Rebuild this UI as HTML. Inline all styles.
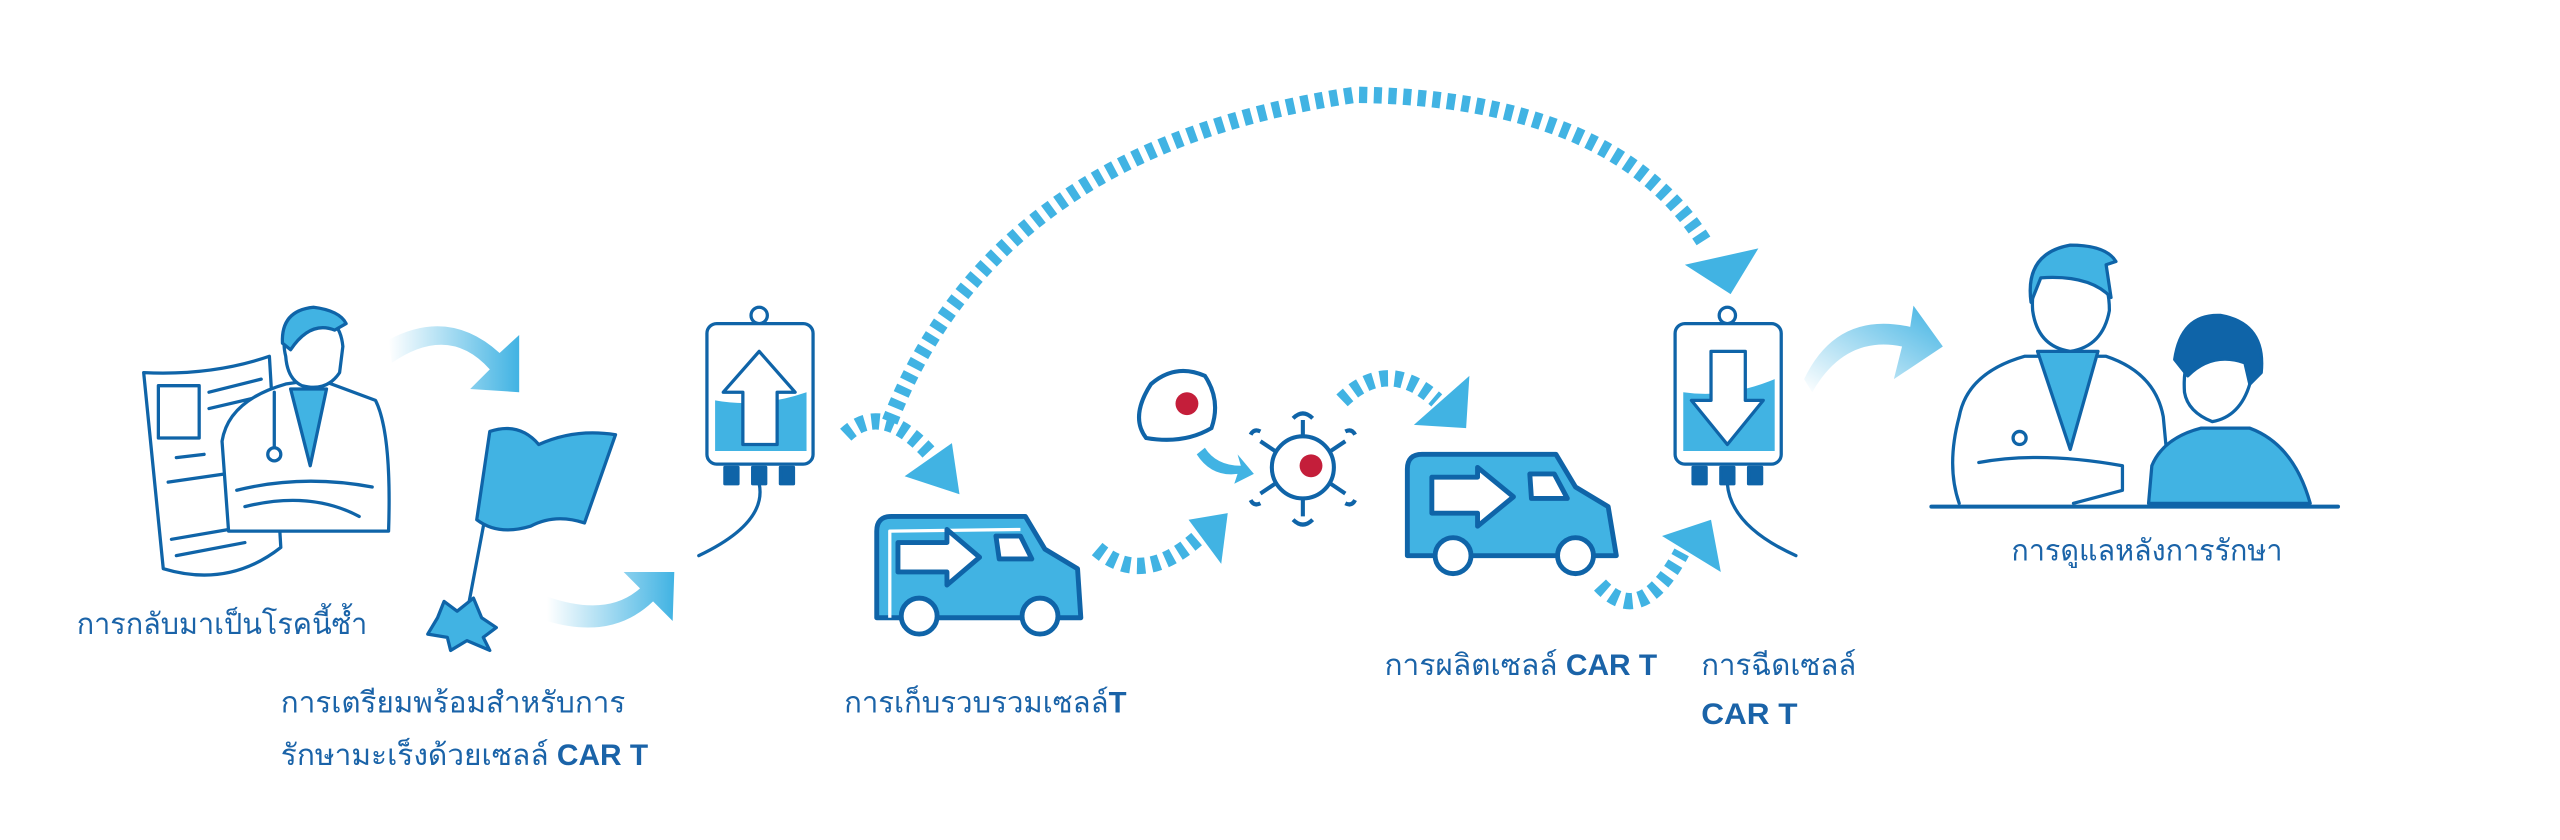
<!DOCTYPE html>
<html><head><meta charset="utf-8"><style>
html,body{margin:0;padding:0;background:#fff;}
svg{display:block;}
text{font-family:"Liberation Sans","DejaVu Sans",sans-serif;fill:#1a63a8;font-size:18px;}
</style></head><body>
<svg width="2560" height="840" viewBox="0 0 1568 514" preserveAspectRatio="none" xmlns="http://www.w3.org/2000/svg">
<defs>
<linearGradient id="g1" x1="0" x2="1" y1="0" y2="0"><stop offset="0" stop-color="#41b3e3" stop-opacity="0"/><stop offset="1" stop-color="#41b3e3"/></linearGradient>
<linearGradient id="g2" x1="0" x2="1" y1="1" y2="0"><stop offset="0" stop-color="#41b3e3" stop-opacity="0"/><stop offset="1" stop-color="#41b3e3"/></linearGradient>
</defs>
<g fill="none" stroke="#0f64a8" stroke-width="2" stroke-linejoin="round" stroke-linecap="round">
<path d="M88 228 Q130 230 165 218 L172 335 Q140 360 100 348 Z" fill="#fff"/>
<rect x="97" y="236" width="25" height="32"/>
<path d="M103 295 L138 290 M105 330 L140 324 M108 340 L150 332 M128 240 L160 232 M128 250 L158 243 M108 280 L125 278"/>
<path d="M140 325 L136 270 Q140 245 175 235 L195 232 L230 245 Q240 265 238 325 Z" fill="#fff"/>
<path d="M178 238 L190 285 L200 238 Z" fill="#41b3e3"/>
<path d="M175 218 Q170 198 190 194 Q208 192 210 212 L208 228 Q200 240 185 236 Q176 232 175 218 Z" fill="#fff"/>
<path d="M173 210 Q172 190 192 188 Q208 190 212 198 L205 202 Q190 196 178 214 Z" fill="#41b3e3"/>
<path d="M145 300 Q185 290 228 298 M150 310 Q190 300 220 316 M168 240 L168 275" />
<circle cx="168" cy="278" r="4" fill="#fff"/>
<path d="M240 222 Q275 198 300 226 L288 238 L318 240 L318 205 L306 216 Q275 188 238 208 Z" fill="url(#g1)" stroke="none"/>
<path d="M335 380 Q375 392 400 368 L412 380 L413 350 L382 350 L392 360 Q372 378 335 365 Z" fill="url(#g1)" stroke="none"/>
<path d="M1110 240 Q1130 205 1165 212 L1160 232 L1190 212 L1172 187 L1170 200 Q1125 190 1105 232 Z" fill="url(#g2)" stroke="none"/>
<path d="M287 370 L307 264"/>
<path d="M300 264 Q318 258 330 272 Q352 262 377 266 L358 320 Q340 314 325 322 Q305 328 292 318 Z" fill="#41b3e3"/>
<path d="M262 388 L268 378 L272 368 L280 374 L290 366 L295 378 L304 384 L296 390 L300 398 L286 392 L276 398 L274 390 Z" fill="#41b3e3"/>
<circle cx="465" cy="193" r="5" fill="#fff"/>
<rect x="433" y="198" width="65" height="86" rx="6" fill="#fff"/>
<path d="M438 245 Q465 250 494 240 L494 276 L438 276 Z" fill="#41b3e3" stroke="none"/>
<path d="M465 215 L487 240 L476 240 L476 272 L455 272 L455 240 L443 240 Z" fill="#fff"/>
<rect x="444" y="286" width="8" height="10" fill="#0f64a8"/><rect x="461" y="286" width="8" height="10" fill="#0f64a8"/><rect x="478" y="286" width="8" height="10" fill="#0f64a8"/>
<path d="M465 296 Q470 320 428 340"/>
<circle cx="1058" cy="193" r="5" fill="#fff"/>
<rect x="1026" y="198" width="65" height="86" rx="6" fill="#fff"/>
<path d="M1031 240 Q1058 244 1087 232 L1087 276 L1031 276 Z" fill="#41b3e3" stroke="none"/>
<path d="M1048 215 L1069 215 L1069 245 L1080 245 L1058 272 L1036 245 L1048 245 Z" fill="#fff"/>
<rect x="1037" y="286" width="8" height="10" fill="#0f64a8"/><rect x="1054" y="286" width="8" height="10" fill="#0f64a8"/><rect x="1071" y="286" width="8" height="10" fill="#0f64a8"/>
<path d="M1058 296 Q1060 322 1100 340"/>
</g>
<g fill="none" stroke="#41b3e3" stroke-width="10" stroke-dasharray="5 4">
<path d="M545 258 Q610 90 830 58 Q990 60 1045 150"/>
<path d="M518 266 Q540 245 570 278"/>
<path d="M672 336 Q700 360 735 328"/>
<path d="M822 245 Q850 218 880 245"/>
<path d="M980 358 Q1005 385 1030 338"/>
</g>
<g fill="#41b3e3">
<path d="M1032 162 L1077 152 L1060 180 Z"/>
<path d="M555 295 L580 270 L590 300 Z" transform="rotate(10 575 288)"/>
<path d="M728 318 L752 314 L748 345 Z"/>
<path d="M866 260 L900 230 L898 262 Z"/>
<path d="M1018 328 L1048 318 L1054 350 Z"/>
</g>
<g stroke="#0f64a8" stroke-width="3" stroke-linejoin="round">
<path d="M537 378 L537 325 Q537 316 546 316 L628 316 L640 336 L660 348 L662 378 Z" fill="#41b3e3"/>
<path d="M545 378 L545 325 L625 324" fill="none" stroke="#fff" stroke-width="2"/>
<path d="M550 332 L580 332 L580 324 L600 341 L580 358 L580 350 L550 350 Z" fill="#fff"/>
<path d="M610 328 L625 328 L632 342 L612 342 Z" fill="#fff"/>
<circle cx="563" cy="377" r="11" fill="#fff"/><circle cx="637" cy="377" r="11" fill="#fff"/>
<path d="M862 340 L862 287 Q862 278 871 278 L953 278 L965 298 L985 310 L990 340 Z" fill="#41b3e3"/>
<path d="M877 292 L905 292 L905 286 L927 304 L905 322 L905 314 L877 314 Z" fill="#fff"/>
<path d="M937 290 L952 290 L960 305 L938 305 Z" fill="#fff"/>
<circle cx="890" cy="340" r="11" fill="#fff"/><circle cx="965" cy="340" r="11" fill="#fff"/>
</g>
<g stroke="#0f64a8" stroke-width="2.5" fill="none">
<path d="M705 235 Q720 222 738 230 Q748 245 742 262 Q725 272 702 268 Q692 255 705 235 Z" fill="#fff"/>
<circle cx="798" cy="286" r="19" fill="#fff"/>
<path d="M798 267 L798 257 M798 305 L798 316 M781 276 L772 270 M815 276 L824 270 M781 296 L772 302 M815 296 L824 302"/>
<path d="M792 256 Q798 250 804 256 M792 318 Q798 324 804 318 M766 266 Q768 262 772 264 M830 266 Q828 262 824 264 M766 306 Q768 310 772 308 M830 306 Q828 310 824 308"/>
</g>
<circle cx="727" cy="247" r="7" fill="#c41e3a"/>
<circle cx="803" cy="285" r="7" fill="#c41e3a"/>
<path d="M738 274 Q745 285 760 285 L758 278 L768 290 L756 296 L758 290 Q742 292 733 278 Z" fill="#41b3e3"/>
<g fill="none" stroke="#0f64a8" stroke-width="2" stroke-linejoin="round" stroke-linecap="round">
<path d="M1200 308 Q1192 285 1200 255 Q1205 228 1240 218 L1290 218 Q1320 228 1325 255 L1330 308" fill="#fff"/>
<path d="M1248 215 L1268 275 L1285 215 Z" fill="#41b3e3"/>
<path d="M1245 190 Q1243 160 1268 158 Q1292 160 1292 190 Q1288 212 1268 215 Q1248 212 1245 190 Z" fill="#fff"/>
<path d="M1244 185 Q1240 155 1268 150 Q1290 150 1296 160 L1290 162 L1293 182 Q1280 168 1250 170 Z" fill="#41b3e3"/>
<path d="M1212 283 Q1250 276 1300 285 L1300 300 L1270 308"/>
<circle cx="1237" cy="268" r="4" fill="#fff"/>
<path d="M1316 308 L1318 285 Q1325 268 1348 262 L1378 262 Q1405 272 1415 308 Z" fill="#41b3e3"/>
<path d="M1338 240 Q1336 210 1358 206 Q1378 210 1378 235 Q1372 255 1355 258 Q1340 252 1338 240 Z" fill="#fff"/>
<path d="M1332 220 Q1336 192 1360 193 Q1388 198 1385 228 L1378 235 L1375 222 Q1355 215 1340 230 Z" fill="#0f64a8"/>
<path d="M1183 310 L1432 310" stroke-width="2.5"/>
</g>
<text x="47" y="388" textLength="178" lengthAdjust="spacingAndGlyphs">การกลับมาเป็นโรคนี้ซ้ำ</text>
<text x="172" y="436" textLength="211" lengthAdjust="spacingAndGlyphs">การเตรียมพร้อมสำหรับการ</text>
<text x="172" y="468" textLength="225" lengthAdjust="spacingAndGlyphs">รักษามะเร็งด้วยเซลล์ <tspan font-weight="bold">CAR T</tspan></text>
<text x="517" y="436" textLength="173" lengthAdjust="spacingAndGlyphs">การเก็บรวบรวมเซลล์<tspan font-weight="bold">T</tspan></text>
<text x="848" y="413" textLength="167" lengthAdjust="spacingAndGlyphs">การผลิตเซลล์ <tspan font-weight="bold">CAR T</tspan></text>
<text x="1042" y="413" textLength="95" lengthAdjust="spacingAndGlyphs">การฉีดเซลล์</text>
<text x="1042" y="443" textLength="59" lengthAdjust="spacingAndGlyphs" font-weight="bold">CAR T</text>
<text x="1232" y="343" textLength="166" lengthAdjust="spacingAndGlyphs">การดูแลหลังการรักษา</text>
</svg>
</body></html>
